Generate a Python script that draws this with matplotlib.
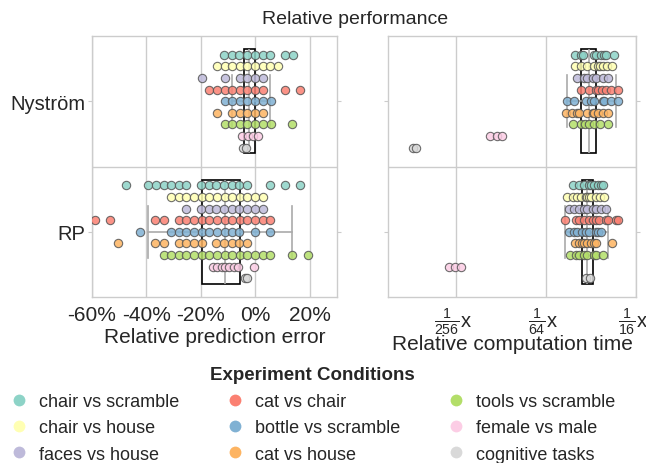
import numpy as np
import matplotlib
matplotlib.use("Agg")
import matplotlib.pyplot as plt
from matplotlib.lines import Line2D
from matplotlib.ticker import FuncFormatter

plt.rcParams['font.family'] = ['Liberation Sans', 'DejaVu Sans']
plt.rcParams['mathtext.fontset'] = 'custom'
plt.rcParams['mathtext.rm'] = 'Liberation Sans'
plt.rcParams['mathtext.it'] = 'Liberation Sans:italic'
plt.rcParams['mathtext.bf'] = 'Liberation Sans:bold'
plt.rcParams['text.color'] = '#262626'
plt.rcParams['xtick.color'] = '#262626'
plt.rcParams['ytick.color'] = '#262626'
plt.rcParams['axes.labelcolor'] = '#262626'

# --- data -------------------------------------------------------------
methods = ['Nyström', 'RP']
conditions = ['chair vs scramble', 'chair vs house', 'faces vs house',
              'cat vs chair', 'bottle vs scramble', 'cat vs house',
              'tools vs scramble', 'female vs male', 'cognitive tasks']
colors = ['#8dd3c7', '#ffffb3', '#bebada', '#fb8072', '#80b1d3',
          '#fdb462', '#b3de69', '#fccde5', '#d9d9d9']

# relative prediction error (%), one list per condition
nys_error = [
    [-11.4, -8.7, -5.9, -3.0, -0.1, 2.7, 5.5, 11.0, 13.8],
    [-14.1, -11.3, -8.5, -5.7, -2.9, -0.1, 2.7, 5.5, 8.3],
    [-19.6, -11.3, -5.7, -2.9, -0.1, 2.7],
    [-16.9, -14.1, -11.3, -8.5, -5.7, -2.9, -0.1, 2.7, 10.9, 16.5],
    [-11.3, -8.5, -5.7, -2.9, -0.1, 2.7, 5.6],
    [-14.1, -8.5, -5.7, -2.9, -0.1, 2.7],
    [-11.3, -8.5, -5.7, -2.9, -0.1, 2.7, 5.6, 13.6],
    [-5.0, -2.6, -0.7, 0.8],
    [-4.4, -3.4],
]
rp_error = [
    [-47.6, -39.4, -36.6, -33.7, -31.0, -28.2, -25.3, -19.9, -17.1, -14.3,
     -11.4, -8.7, -5.9, -3.0, 5.4, 10.9, 16.5],
    [-30.9, -28.1, -25.3, -22.5, -19.7, -16.9, -14.1, -11.3, -8.5, -5.7,
     -2.9, -0.1, 2.7],
    [-25.3, -19.9, -17.1, -14.3, -11.4, -8.7, -5.9, -3.0, -0.1, 2.7],
    [-58.9, -53.3, -36.7, -33.7, -28.2, -25.3, -22.6, -19.7, -16.9, -14.1,
     -11.3, -8.5, -5.7, -2.9, -0.1, 2.7, 5.5],
    [-42.2, -31.0, -28.2, -25.3, -22.6, -19.7, -16.9, -14.1, -11.3, -8.5,
     -5.9, -0.1, 5.4],
    [-50.3, -36.7, -33.7, -28.2, -25.3, -22.6, -19.7, -14.3, -11.4, -8.7,
     -5.9, -3.0],
    [-33.7, -31.0, -28.2, -25.3, -22.6, -19.7, -16.9, -14.1, -11.3, -8.5,
     -5.7, -2.9, -0.1, 2.7, 5.5, 13.6, 19.4],
    [-15.4, -13.9, -12.4, -11.0, -9.5, -8.0, -6.2, -0.5],
    [-3.7, -2.9],
]
# box summaries as drawn: whisker low, q1, median, q3, whisker high
nys_error_box = [-8.4, -4.0, -2.3, -0.1, 5.4]
rp_error_box = [-39.4, -19.6, -11.1, -5.6, 13.6]

# relative computation time, read as log2 of the ratio
nys_time_log2 = [
    [-5.36, -5.21, -5.17, -4.93, -4.88, -4.78, -4.72, -4.66, -4.48],
    [-5.36, -5.21, -5.09, -4.94, -4.85, -4.79, -4.74, -4.65, -4.54],
    [-5.31, -5.15, -5.08, -4.96, -4.89, -4.74, -4.63],
    [-5.21, -5.04, -4.89, -4.84, -4.76, -4.67, -4.56, -4.41],
    [-5.52, -5.37, -5.11, -5.00, -4.93, -4.74, -4.71, -4.56, -4.39],
    [-5.56, -5.41, -5.31, -5.26, -5.09, -4.96, -4.93, -4.84, -4.74, -4.63],
    [-5.39, -5.21, -5.14, -5.04, -4.93, -4.79, -4.63],
    [-7.23, -7.08, -6.97],
    [-8.95, -8.87],
]
rp_time_log2 = [
    [-5.39, -5.26, -5.15, -5.04, -5.00, -4.93, -4.85, -4.78, -4.74],
    [-5.54, -5.39, -5.31, -5.23, -5.11, -5.08, -5.04, -5.00, -4.89, -4.79, -4.71],
    [-5.49, -5.37, -5.26, -5.15, -5.08, -4.96, -4.89, -4.78, -4.67],
    [-5.58, -5.34, -5.26, -5.15, -5.04, -4.96, -4.89, -4.82, -4.67, -4.63,
     -4.44, -4.39],
    [-5.49, -5.37, -5.30, -5.19, -5.11, -5.04, -4.89, -4.85, -4.78],
    [-5.36, -5.26, -5.19, -5.15, -5.08, -5.00, -4.93, -4.89, -4.54],
    [-5.46, -5.34, -5.26, -5.15, -5.08, -4.93, -4.89, -4.74],
    [-8.14, -8.02, -7.87],
    [-5.11, -5.01],
]
nys_time_box_log2 = [-5.54, -5.225, -5.05, -4.89, -4.44]
rp_time_box_log2 = [-5.57, -5.20, -5.08, -4.95, -4.63]

time_ticks = [2.0 ** -8, 2.0 ** -6, 2.0 ** -4]
time_ticklabels = [r'$\frac{1}{256}$x  ', r'$\frac{1}{64}$x  ', r'$\frac{1}{16}$x  ']

GRID = '#cccccc'
WIDTH = 0.8


def draw_panel(ax, per_method, boxes, to_x):
    n = len(conditions)
    for m, (rows, box) in enumerate(zip(per_method, boxes)):
        lo, q1, med, q3, hi = to_x(np.asarray(box, float))
        st = dict(whislo=lo, q1=q1, med=med, q3=q3, whishi=hi, fliers=[])
        ax.bxp([st], positions=[m], widths=WIDTH, orientation='horizontal',
               showfliers=False, patch_artist=True,
               boxprops=dict(facecolor='none', edgecolor='black', linewidth=1.2),
               whiskerprops=dict(color='#aaaaaa', linewidth=1.2),
               capprops=dict(color='#aaaaaa', linewidth=1.2),
               medianprops=dict(color='#aaaaaa', linewidth=1.2),
               zorder=2)
        for i, r in enumerate(rows):
            y = m - WIDTH / 2 + WIDTH / n * (i + 0.5)
            xs = to_x(np.asarray(r, float))
            ax.scatter(xs, np.full(len(xs), y), s=36, color=colors[i],
                       edgecolor='#555555', linewidth=0.8, alpha=0.85, zorder=3)
    ax.axhline(0.5, color=GRID, linewidth=1.0, zorder=1)
    ax.set_ylim(1.5, -0.5)
    ax.set_yticks([0, 1])
    ax.grid(axis='x', color=GRID, linewidth=1.0, zorder=0)
    ax.set_axisbelow(True)
    for sp in ax.spines.values():
        sp.set_color(GRID)
        sp.set_linewidth(1.0)
    ax.tick_params(axis='y', length=3, color=GRID, left=True, right=True)
    ax.tick_params(axis='x', length=0, labelsize=15, pad=6)


fig = plt.figure(figsize=(6.46, 4.64), dpi=100)
ax1 = fig.add_axes([92 / 646, 1 - 298 / 464, 245 / 646, 261 / 464])
ax2 = fig.add_axes([388 / 646, 1 - 298 / 464, 248 / 646, 261 / 464])

draw_panel(ax1, [nys_error, rp_error], [nys_error_box, rp_error_box],
           lambda v: v)
ax1.set_xlim(-60, 30)
ax1.set_xticks([-60, -40, -20, 0, 20])
ax1.xaxis.set_major_formatter(FuncFormatter(lambda v, p: f'{int(round(v))}%'))
ax1.set_yticklabels(methods, fontsize=14.5)
ax1.tick_params(axis='y', pad=2)
ax1.set_xlabel('Relative prediction error', fontsize=15, labelpad=2)

ax2.set_xscale('log', base=2)
draw_panel(ax2, [nys_time_log2, rp_time_log2],
           [nys_time_box_log2, rp_time_box_log2], np.exp2)
ax2.set_xlim(2.0 ** -9.5, 2.0 ** -4)
ax2.set_xticks(time_ticks)
ax2.set_xticklabels(time_ticklabels, fontsize=14.5)
ax2.minorticks_off()
ax2.set_yticklabels([])
ax2.set_xlabel('Relative computation time', fontsize=15, labelpad=-1)

fig.text(355 / 646, 1 - 19 / 464, 'Relative performance', fontsize=14,
         ha='center', va='center')

handles = [Line2D([], [], marker='o', linestyle='', markersize=8.5,
                  markerfacecolor=c, markeredgewidth=0) for c in colors]
leg = fig.legend(handles, conditions, loc='upper center',
                 bbox_to_anchor=(0.484, 0.243), ncol=3, frameon=False,
                 fontsize=13, title='Experiment Conditions',
                 title_fontproperties={'weight': 'bold', 'size': 13.5},
                 handlelength=1.0, handletextpad=0.6, columnspacing=2.6,
                 labelspacing=0.52)

fig.savefig('out.png', dpi=100)
